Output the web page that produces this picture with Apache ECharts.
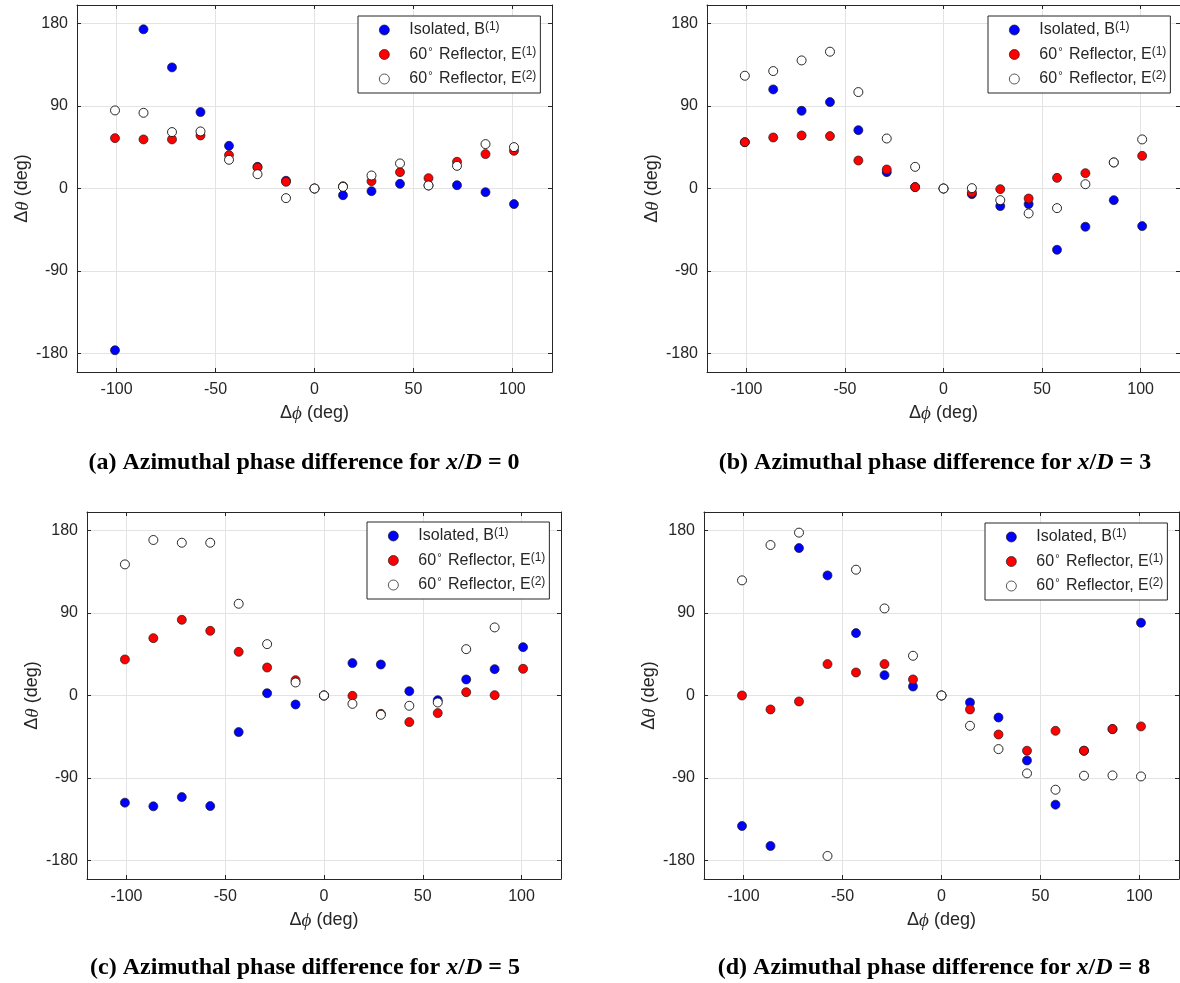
<!DOCTYPE html>
<html>
<head>
<meta charset="utf-8">
<script src="https://cdn.jsdelivr.net/npm/echarts@6/dist/echarts.min.js"></script>
<style>
html,body{margin:0;padding:0;background:#fff;}
#chart{width:1180px;height:983px;}
</style>
</head>
<body>
<div id="chart"></div>
<script>
// Azimuthal separation of sensors (deg)
const phi = [-100.8, -86.4, -72, -57.6, -43.2, -28.8, -14.4, 0, 14.4, 28.8, 43.2, 57.6, 72, 86.4, 100.8];

// Panel (a) x/D = 0
const aB  = [-176.3, 173.5, 132, 83.3, 46.5, 23.6, 8.4, 0, -7.3, -2.9, 5.1, 3.3, 3.6, -4, -17];
const aE1 = [54.9, 53.5, 53.5, 57.8, 36.4, 22.9, 7.3, 0, 2.5, 8, 17.8, 11.3, 29.1, 37.5, 41.1];
const aE2 = [85.1, 82.5, 61.5, 62.2, 31.3, 15.6, -10.5, 0, 1.8, 14.2, 27.3, 3.3, 24.7, 48.4, 45.1];

// Panel (b) x/D = 3
const bB  = [50.5, 108, 84.7, 94.2, 63.6, 17.8, 1.5, 0, -6.2, -19.2, -17, -66.8, -41.7, -12.7, -41];
const bE1 = [50.5, 55.6, 57.8, 57.1, 30.5, 20.7, 1.5, 0, -4.4, -0.7, -10.9, 11.6, 16.7, 28.4, 35.6];
const bE2 = [122.9, 128, 139.6, 149.1, 105.1, 54.5, 23.6, 0, 0.4, -12.7, -27.2, -21.4, 4.7, 28.4, 53.5];

// Panel (c) x/D = 5
const cB  = [-116.8, -120.8, -110.7, -120.5, -39.9, 2.5, -9.8, 0, 35.3, 33.8, 4.7, -5.1, 17.5, 28.7, 52.7];
const cE1 = [39.3, 62.5, 82.5, 70.5, 47.6, 30.5, 16.7, 0, -0.4, -20, -29, -19.2, 3.6, 0.4, 29.1];
const cE2 = [142.9, 169.5, 166.5, 166.5, 100, 56, 14.2, 0, -9.1, -21, -11.2, -7.6, 50.5, 74.2, null];

// Panel (d) x/D = 8
const dB  = [-142.2, -164, 160.7, 130.9, 68, 22.2, 9.8, 0, -7.6, -24, -70.8, -119, -60.2, -36.6, 79.3];
const dE1 = [0, -15.2, -6.5, 34.2, 25.1, 34.2, 17.5, 0, -15.2, -42.5, -60.2, -38.5, -60.2, -36.6, -33.7];
const dE2 = [125.5, 164, 177.5, -174.9, 137.1, 94.9, 43.3, 0, -33, -58.4, -84.9, -102.7, -87.4, -87.1, -88.2];

const xTicks = [-100, -50, 0, 50, 100];
const yTicks = [-180, -90, 0, 90, 180];
const seriesNames = ['Isolated, B(1)', '60° Reflector, E(1)', '60° Reflector, E(2)'];
const captions = [
  {tag: '(a)', xd: '0'},
  {tag: '(b)', xd: '3'},
  {tag: '(c)', xd: '5'},
  {tag: '(d)', xd: '8'}
];

const panels = [
  {B: aB, E1: aE1, E2: aE2},
  {B: bB, E1: bE1, E2: bE2},
  {B: cB, E1: cE1, E2: cE2},
  {B: dB, E1: dE1, E2: dE2}
];

// layout (pixels)
const gridPos = [
  {left: 77, top: 5, width: 475, height: 367},
  {left: 707, top: 5, width: 473, height: 367},
  {left: 87, top: 512, width: 474, height: 367},
  {left: 704, top: 512, width: 475, height: 367}
];
const legendPos = [
  {left: 358, top: 16},
  {left: 988, top: 16},
  {left: 367, top: 522},
  {left: 985, top: 523}
];
const captionPos = [
  {x: 304, y: 451},
  {x: 935, y: 451},
  {x: 305, y: 956},
  {x: 934, y: 956}
];

const AX = '#262626';
const GRIDC = '#e3e3e3';
const FONT = '"Liberation Sans", Arial, Helvetica, sans-serif';
const SERIF = '"Liberation Serif", "Times New Roman", serif';

function pairs(ys) {
  return phi.map((x, i) => [x, ys[i]]).filter(p => p[1] !== null);
}

const grid = [], xAxis = [], yAxis = [], series = [], legend = [], title = [];

const styles = [
  {color: '#0000ff', borderColor: '#1a1a1a', borderWidth: 0.7},
  {color: '#ff0000', borderColor: '#1a1a1a', borderWidth: 0.7},
  {color: '#ffffff', borderColor: '#111111', borderWidth: 0.9}
];

const legendRich = {
  n: {fontFamily: FONT, fontSize: 16, color: AX, lineHeight: 18},
  s: {fontFamily: FONT, fontSize: 12, color: AX, lineHeight: 12, padding: [0, 0, 6, 0]},
  d: {fontFamily: FONT, fontSize: 11, color: AX, lineHeight: 11, padding: [0, 2, 6, 1]}
};
function legendFmt(name) {
  if (name === seriesNames[0]) return '{n|Isolated, B}{s|(1)}';
  if (name === seriesNames[1]) return '{n|60}{d|°}{n| Reflector, E}{s|(1)}';
  return '{n|60}{d|°}{n| Reflector, E}{s|(2)}';
}

panels.forEach((p, i) => {
  grid.push(Object.assign({containLabel: false}, gridPos[i]));
  // bottom x axis
  xAxis.push({
    type: 'value', gridIndex: i, position: 'bottom', min: -120, max: 120,
    name: 'Δ{i|ϕ} (deg)', nameLocation: 'middle', nameGap: 32,
    nameTextStyle: {fontFamily: FONT, fontSize: 18, color: AX,
      rich: {i: {fontFamily: SERIF, fontStyle: 'italic', fontSize: 19, color: AX}}},
    axisLine: {show: true, onZero: false, lineStyle: {color: AX, width: 1}},
    axisTick: {show: true, inside: true, length: 4, customValues: xTicks, lineStyle: {color: AX}},
    axisLabel: {customValues: xTicks, fontFamily: FONT, fontSize: 16, color: AX, margin: 10},
    splitLine: {show: true, lineStyle: {color: GRIDC, width: 1}}
  });
  // top x axis (box)
  xAxis.push({
    type: 'value', gridIndex: i, position: 'top', min: -120, max: 120,
    axisLine: {show: true, onZero: false, lineStyle: {color: AX, width: 1}},
    axisTick: {show: true, inside: true, length: 4, customValues: xTicks, lineStyle: {color: AX}},
    axisLabel: {show: false},
    splitLine: {show: false}
  });
  // left y axis
  yAxis.push({
    type: 'value', gridIndex: i, position: 'left', min: -200, max: 200,
    name: 'Δ{i|θ} (deg)', nameLocation: 'middle', nameGap: 45,
    nameTextStyle: {fontFamily: FONT, fontSize: 18, color: AX,
      rich: {i: {fontFamily: SERIF, fontStyle: 'italic', fontSize: 19, color: AX}}},
    axisLine: {show: true, onZero: false, lineStyle: {color: AX, width: 1}},
    axisTick: {show: true, inside: true, length: 4, customValues: yTicks, lineStyle: {color: AX}},
    axisLabel: {customValues: yTicks, fontFamily: FONT, fontSize: 16, color: AX, margin: 9},
    splitLine: {show: true, lineStyle: {color: GRIDC, width: 1}}
  });
  // right y axis (box)
  yAxis.push({
    type: 'value', gridIndex: i, position: 'right', min: -200, max: 200,
    axisLine: {show: true, onZero: false, lineStyle: {color: AX, width: 1}},
    axisTick: {show: true, inside: true, length: 4, customValues: yTicks, lineStyle: {color: AX}},
    axisLabel: {show: false},
    splitLine: {show: false}
  });

  [p.B, p.E1, p.E2].forEach((vals, k) => {
    series.push({
      type: 'scatter', name: seriesNames[k],
      xAxisIndex: 2 * i, yAxisIndex: 2 * i,
      data: pairs(vals), symbol: 'circle', symbolSize: 9,
      itemStyle: Object.assign({opacity: 1}, styles[k]),
      z: 2 + k
    });
  });

  legend.push({
    left: legendPos[i].left, top: legendPos[i].top,
    orient: 'vertical',
    data: seriesNames.map((n, k) => ({
      name: n, icon: 'circle',
      itemStyle: {color: styles[k].color, borderColor: styles[k].borderColor, borderWidth: 0.7}
    })),
    itemWidth: 40, itemHeight: 10, itemGap: 6.5,
    padding: [5, 4, 5, 21],
    borderColor: AX, borderWidth: 1, backgroundColor: '#ffffff',
    selectedMode: false,
    formatter: legendFmt,
    textStyle: {fontFamily: FONT, fontSize: 16, color: AX, rich: legendRich},
    z: 10
  });

  title.push({
    text: '{b|' + captions[i].tag + ' Azimuthal phase difference for }{i|x}{r|/}{i|D}{r| = ' + captions[i].xd + '}',
    left: captionPos[i].x, top: captionPos[i].y, textAlign: 'center',
    textStyle: {
      fontFamily: SERIF, fontSize: 24, color: '#000',
      rich: {
        b: {fontFamily: SERIF, fontSize: 24, fontWeight: 'bold', color: '#000'},
        i: {fontFamily: SERIF, fontSize: 24, fontStyle: 'italic', color: '#000'},
        r: {fontFamily: SERIF, fontSize: 24, color: '#000'}
      }
    },
    padding: 0
  });
});

const chart = echarts.init(document.getElementById('chart'), null, {renderer: 'canvas'});
chart.setOption({
  animation: false,
  backgroundColor: '#ffffff',
  title, grid, xAxis, yAxis, legend, series
});
</script>
</body>
</html>
